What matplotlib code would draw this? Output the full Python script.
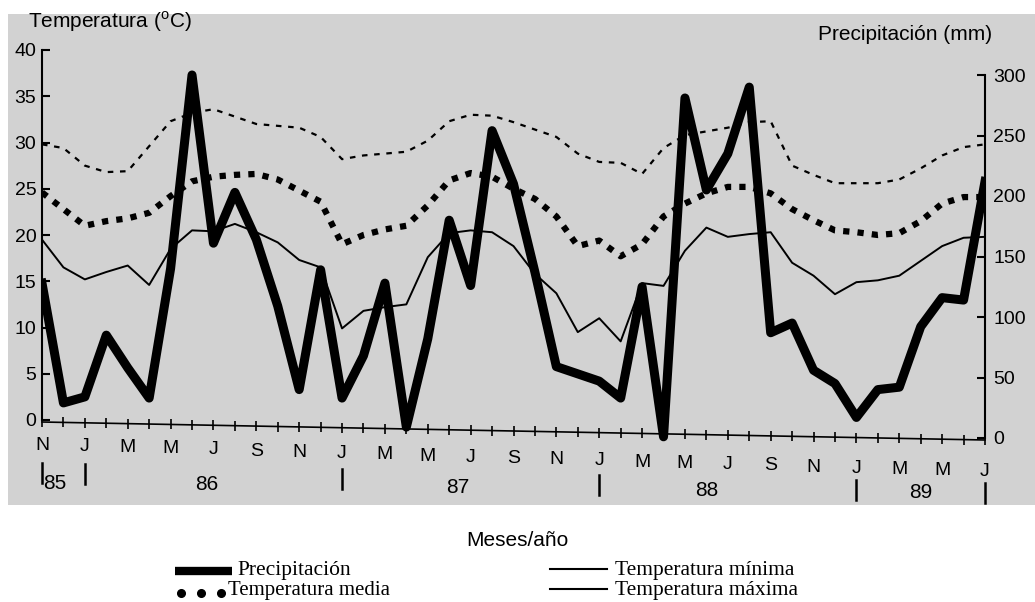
import matplotlib.pyplot as plt
from matplotlib.lines import Line2D
from matplotlib.patches import Rectangle

plt.rcParams['font.family'] = 'Liberation Sans'
plt.rcParams['mathtext.fontset'] = 'custom'
plt.rcParams['mathtext.rm'] = 'Liberation Sans'

# Monthly series, Nov 1985 .. Jul 1989 (index 0 = Nov 85)
# fmt: off
precip = [128, 29, 34, 85, 58, 33, 140, 300, 161, 203, 164, 109, 40, 139, 33, 68, 128, 9, 82, 180,
          126, 254, 210, 137, 59, 53, 47, 33, 125, 1, 281, 205, 235, 290, 87, 95, 56, 45, 17, 40,
          42, 92, 116, 114, 212]
t_max = [29.8, 29.4, 27.5, 26.8, 26.9, 29.6, 32.3, 33.2, 33.6, 32.8, 32.0, 31.8, 31.6, 30.6, 28.2,
         28.6, 28.8, 29.0, 30.2, 32.3, 33.0, 32.9, 32.2, 31.4, 30.6, 28.8, 27.9, 27.8, 26.6, 29.4,
         30.8, 31.2, 31.6, 32.2, 32.3, 27.5, 26.5, 25.6, 25.6, 25.6, 26.0, 27.2, 28.6, 29.5, 29.8]
t_mean = [24.6, 22.8, 21.0, 21.5, 21.8, 22.4, 24.2, 25.8, 26.3, 26.5, 26.6, 26.0, 24.8, 23.6, 19.0,
          20.0, 20.6, 21.0, 23.2, 25.9, 26.7, 26.3, 25.0, 23.9, 22.0, 18.8, 19.4, 17.7, 19.0, 22.0,
          23.4, 24.5, 25.2, 25.2, 24.5, 22.8, 21.6, 20.5, 20.3, 20.0, 20.2, 21.5, 23.4, 24.1, 24.1]
t_min = [19.5, 16.5, 15.2, 16.0, 16.7, 14.6, 18.5, 20.5, 20.4, 21.2, 20.3, 19.2, 17.3, 16.5, 9.9,
         11.8, 12.2, 12.5, 17.6, 20.2, 20.5, 20.3, 18.8, 15.8, 13.7, 9.5, 11.0, 8.5, 14.8, 14.5,
         18.3, 20.8, 19.8, 20.1, 20.3, 17.0, 15.6, 13.6, 14.9, 15.1, 15.6, 17.2, 18.8, 19.7, 19.8]
month_labels = ['N', 'J', 'M', 'M', 'J', 'S', 'N', 'J', 'M', 'M', 'J', 'S',
                'N', 'J', 'M', 'M', 'J', 'S', 'N', 'J', 'M', 'M', 'J']
year_labels = ['85', '86', '87', '88', '89']
year_pos = [0.6, 7.7, 19.4, 31.0, 41.0]
year_breaks = [0, 2, 14, 26, 38, 44]
# fmt: on
months = list(range(len(precip)))

W, H = 1035, 602
fig = plt.figure(figsize=(W / 100, H / 100), dpi=100)


def fx(px):
    return px / W


def fy(py):
    return 1 - py / H


# grey scanned panel
fig.patches.append(Rectangle((fx(8), fy(505)), 1 - fx(8), fy(14) - fy(505),
                             transform=fig.transFigure, facecolor='#d2d2d2',
                             edgecolor='none', zorder=-5))

left, right, top, bot = 42, 985, 40, 450
ax = fig.add_axes([fx(left), fy(bot), fx(right) - fx(left), fy(top) - fy(bot)])
ax.patch.set_alpha(0)
ax2 = ax.twinx()
ax2.patch.set_alpha(0)


def ay(py):
    return (bot - py) / (bot - top)


# temperature lines
ax.plot(months, t_max, color='black', lw=1.6, linestyle=(0, (2.5, 3)))
ax.plot(months, t_mean, color='black', lw=4.5, linestyle=(0, (1, 1.3)), dash_capstyle='butt')
ax.plot(months, t_min, color='black', lw=1.4)
ax.set_ylim(-(bot - 420) / 9.25, (420 - top) / 9.25)
ax.set_xlim(0, 44)

# precipitation
ax2.plot(months, precip, color='black', lw=6.5)
ax2.set_ylim(-(bot - 438) / 1.21, (438 - top) / 1.21)

for a in (ax, ax2):
    for s in ('top', 'bottom'):
        a.spines[s].set_visible(False)
ax.spines['right'].set_visible(False)
ax2.spines['left'].set_visible(False)
ax.spines['left'].set_bounds(0, 40)
ax.spines['left'].set_linewidth(1.5)
ax2.spines['right'].set_bounds(0, 300)
ax2.spines['right'].set_linewidth(1.5)

ax.set_yticks(range(0, 41, 5))
ax.tick_params(axis='y', direction='in', length=6, width=1.5, labelsize=14, pad=4)
ax2.set_yticks(range(0, 301, 50))
ax2.tick_params(axis='y', direction='in', length=6, width=1.5, labelsize=14, pad=6)
ax.set_xticks([])

# slightly skewed time axis, as in the scan
xt = ax.get_xaxis_transform()
n = months[-1]
ax.plot([0, n], [ay(422), ay(440)], color='black', lw=1.2, transform=xt, clip_on=False)
tick_y = [ay(422 + 18 * m / n - 5) for m in months]
tick_y2 = [ay(422 + 18 * m / n + 5) for m in months]
ax.vlines(months, tick_y2, tick_y, color='black', lw=1.2, transform=xt, clip_on=False)
for i, lab in enumerate(month_labels):
    m = 2 * i
    ax.text(m, ay(445 + 27 * m / n), lab, transform=xt, ha='center', va='center', fontsize=14)
for lab, m in zip(year_labels, year_pos):
    ax.text(m, ay(483 + 10 * m / n), lab, transform=xt, ha='center', va='center', fontsize=15)
for m in year_breaks:
    yb = 463 + 20 * m / n
    ax.plot([m, m], [ay(yb), ay(yb + 20)], color='black', lw=1.8, transform=xt, clip_on=False)

# axis titles
fig.text(fx(28), fy(22), r'Temperatura ($^{\mathrm{o}}$C)', fontsize=15, va='center')
fig.text(fx(818), fy(35), 'Precipitación (mm)', fontsize=15, va='center')
fig.text(fx(517), fy(541), 'Meses/año', fontsize=15, ha='center', va='center')

# legend below the plot
serif = 'Liberation Serif'
fig.add_artist(Line2D([fx(175), fx(232)], [fy(571), fy(571)], color='black', lw=6,
                      solid_capstyle='butt', transform=fig.transFigure))
fig.text(fx(237), fy(571), 'Precipitación', family=serif, fontsize=15.5, va='center')
fig.add_artist(Line2D([fx(181), fx(201), fx(221)], [fy(593)] * 3, color='black', ls='none',
                      marker='o', markersize=5.5, transform=fig.transFigure))
fig.text(fx(228), fy(591), 'Temperatura media', family=serif, fontsize=15, va='center')
fig.add_artist(Line2D([fx(550), fx(607)], [fy(569), fy(569)], color='black', lw=1.5,
                      transform=fig.transFigure))
fig.text(fx(615), fy(570), 'Temperatura mínima', family=serif, fontsize=15.5, va='center')
fig.add_artist(Line2D([fx(550), fx(607)], [fy(589), fy(589)], color='black', lw=1.5,
                      transform=fig.transFigure))
fig.text(fx(615), fy(590), 'Temperatura máxima', family=serif, fontsize=15.5, va='center')

fig.savefig('out.png', dpi=100)
